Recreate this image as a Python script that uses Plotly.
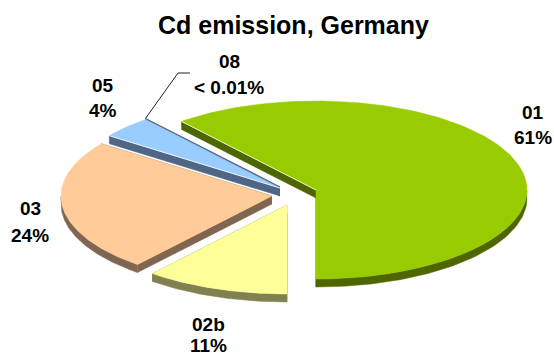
import numpy as np
import plotly.graph_objects as go

# Sector shares of Cd emission, percent, clockwise from the lower edge of sector 01
sectors = ["01", "02b", "03", "05", "08"]
shares = [61, 11, 24, 4, 0.01]
share_labels = ["61%", "11%", "24%", "4%", "< 0.01%"]

top_colors = ["#99CC00", "#FFFF99", "#FFCC99", "#99CCFF", "#99CCFF"]
wall_colors = ["#4F6600", "#808050", "#806650", "#4F6684", "#4F6684"]

# Pie geometry in page pixels
CX, CY = 316, 190
RX, RY = 211, 89
DEPTH = 8
explode = {"01": (0, 0), "02b": (-29, 15), "03": (-44, 6), "05": (-36, -2), "08": (-36, -3)}
draw_order = ["01", "05", "08", "03", "02b"]

W, H = 554, 356
fig = go.Figure()


def add_poly(x, y, color, line=0.5):
    fig.add_trace(go.Scatter(x=x, y=y, mode="lines", fill="toself", fillcolor=color,
                             line=dict(color=color, width=line), hoverinfo="skip"))


# Clock angle (degrees) where each sector begins and ends; sector 01 ends straight down
total_before = np.cumsum([0] + shares)
start0 = 180 - shares[0] * 3.6
spans = {s: (start0 + total_before[i] * 3.6, start0 + total_before[i + 1] * 3.6)
         for i, s in enumerate(sectors)}


def ellipse(theta_deg, ax, ay):
    t = np.radians(theta_deg)
    return ax + RX * np.sin(t), ay - RY * np.cos(t)


for s in draw_order:
    i = sectors.index(s)
    a0, a1 = spans[s]
    ax, ay = CX + explode[s][0], CY + explode[s][1]
    th = np.linspace(a0, a1, 160)
    ex, ey = ellipse(th, ax, ay)
    px = np.concatenate([[ax], ex, [ax]])
    py = np.concatenate([[ay], ey, [ay]])

    if s == "08":
        # The vanishing sector only shows as a dark sliver along its neighbour
        fig.add_trace(go.Scatter(x=px, y=py, mode="lines", hoverinfo="skip",
                                 line=dict(color=wall_colors[i], width=1.2)))
        continue

    # Side walls: the arc where it faces the viewer and both cut faces
    front = (np.mod(th, 360) >= 90) & (np.mod(th, 360) <= 270)
    if front.any():
        fx, fy = ex[front], ey[front]
        add_poly(np.concatenate([fx, fx[::-1]]),
                 np.concatenate([fy, fy[::-1] + DEPTH]), wall_colors[i])
    for k in (0, -1):
        add_poly([ax, ex[k], ex[k], ax], [ay, ey[k], ey[k] + DEPTH, ay + DEPTH], wall_colors[i])

    add_poly(px, py, top_colors[i])

    # Light rim where the lit cut edge meets its wall
    if s in ("01", "05"):
        fig.add_trace(go.Scatter(x=[ex[0], ax], y=[ey[0], ay], mode="lines", hoverinfo="skip",
                                 line=dict(color="#FFFFFF", width=0.8)))

# Leader line for sector 08
lx, ly = ellipse(spans["08"][0], CX + explode["08"][0], CY + explode["08"][1])
fig.add_trace(go.Scatter(x=[lx, 178, 190], y=[ly, 73, 73], mode="lines", hoverinfo="skip",
                         line=dict(color="#222222", width=1)))

label_pos = {"01": (533, 112, 137), "02b": (208, 324, 345), "03": (30, 208, 235),
             "05": (103, 85, 110), "08": (229, 61, 87)}
FONT = "Liberation Sans, Arial, sans-serif"
annotations = [dict(x=293, y=25, text="<b>Cd emission, Germany</b>", showarrow=False,
                    xref="x", yref="y", font=dict(family=FONT, size=25, color="#000000"))]
for s, lab in zip(sectors, share_labels):
    x, y1, y2 = label_pos[s]
    for y, t in ((y1, s), (y2, lab)):
        annotations.append(dict(x=x, y=y, text=f"<b>{t}</b>", showarrow=False, xref="x", yref="y",
                                font=dict(family=FONT, size=19, color="#000000")))

fig.update_layout(
    width=W, height=H, margin=dict(l=0, r=0, t=0, b=0), showlegend=False,
    paper_bgcolor="#FFFFFF", plot_bgcolor="#FFFFFF", annotations=annotations,
    xaxis=dict(range=[0, W], visible=False, fixedrange=True),
    yaxis=dict(range=[H, 0], visible=False, fixedrange=True),
)
fig.write_html("out.html", config={"displayModeBar": False})
